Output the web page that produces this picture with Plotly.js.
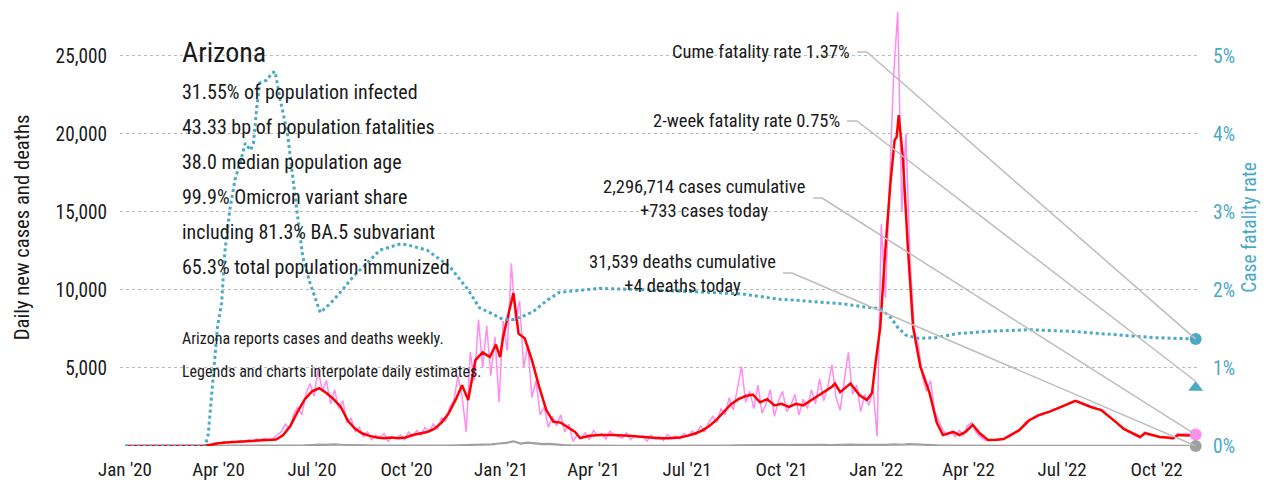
<!DOCTYPE html>
<html><head><meta charset="utf-8">
<script src="https://cdn.plot.ly/plotly-3.0.1.min.js"></script>
<style>html,body{margin:0;padding:0;background:#fff}#chart{width:1273px;height:485px}</style>
</head><body><div id="chart"></div>
<script>
// ---------------- DATA ----------------
const stateName = "Arizona";
const statLines = [
  "31.55% of population infected",
  "43.33 bp of population fatalities",
  "38.0 median population age",
  "99.9% Omicron variant share",
  "including 81.3% BA.5 subvariant",
  "65.3% total population immunized"
];
const noteLines = [
  "Arizona reports cases and deaths weekly.",
  "Legends and charts interpolate daily estimates."
];
const cumeLabel = "Cume fatality rate 1.37%";
const twoWeekLabel = "2-week fatality rate 0.75%";
const casesLabel = "2,296,714 cases cumulative<br>+733 cases today";
const deathsLabel = "31,539 deaths cumulative<br>+4 deaths today";
const leftTitle = "Daily new cases and deaths";
const rightTitle = "Case fatality rate";

const startDate = "2020-01-01";
const lastDay = 1042;              // 2022-11-08
const casesToday = 733;
const deathsToday = 4;
const cfrCume = 1.37;
const cfr2Week = 0.75;

const leftTicks = [5000, 10000, 15000, 20000, 25000];
const rightTicks = [0, 1, 2, 3, 4, 5];
const xTickDates = ["2020-01-01","2020-04-01","2020-07-01","2020-10-01","2021-01-01","2021-04-01","2021-07-01","2021-10-01","2022-01-01","2022-04-01","2022-07-01","2022-10-01"];
const xTickLabels = ["Jan '20","Apr '20","Jul '20","Oct '20","Jan '21","Apr '21","Jul '21","Oct '21","Jan '22","Apr '22","Jul '22","Oct '22"];

// raw daily cases, one reading every 4 days from startDate
const rawStep = 4;
const rawCases = [
0,0,0,0,0,0,0,0,0,0,0,0,0,0,0,0,0,0,0,
20,60,120,200,180,250,200,300,250,350,280,400,300,450,380,500,350,450,
700,900,1400,1100,2000,2500,2000,3300,4000,3200,4900,3500,4200,2700,3600,2400,2900,1500,1800,900,1200,600,900,400,700,500,800,300,600,500,700,400,900,600,1000,700,1200,900,1400,1100,1800,1600,
2500,2900,4500,3200,900,6000,4200,8100,5000,7700,4500,7000,2800,8000,6100,11700,8000,9300,5000,6500,3100,4200,2000,2500,1200,1900,1300,2000,
900,1400,300,700,500,850,400,1000,650,800,450,950,700,600,500,850,400,700,550,650,300,700,450,600,350,750,500,650,450,800,600,950,750,
1300,900,1500,1900,1500,2400,2000,3100,2300,3600,5100,2800,3500,2400,3900,2100,2700,3600,1900,2900,3500,2200,2600,3300,2000,3000,2400,3600,2700,4300,2900,3800,5200,3100,2300,4200,6000,3300,3900,2200,3300,2600,3700,
600,14200,9500,16600,23700,27800,15000,20000,12000,7500,6500,4500,3500,4200,2200,1600,1000,
700,900,600,1000,700,1300,1500,900,600,400,350,400,350,450,500,
700,800,950,1100,1500,1650,1800,2000,1950,2150,2200,2350,2400,2500,2650,2800,2900,2850,2700,2650,2500,2400,2350,2300,2000,1800,1550,1300,1100,950,800,
650,500,900,700,650,650,550,550,500,450,800,750,800,750,750
];

// 7-day average cases (day offset from startDate, value)
const avgDays = [0,70,77,84,91,98,105,112,119,126,133,140,147,154,161,168,175,182,189,196,203,210,217,224,231,238,245,252,259,266,273,280,287,294,301,308,315,322,328,334,341,348,355,361,365,368,378,383,389,396,403,410,417,424,431,438,443,452,462,475,490,500,510,520,530,540,547,555,562,569,576,583,590,597,604,611,618,625,632,639,646,653,660,667,674,681,688,691,696,706,715,722,727,730,735,740,745,749,751,753,757,762,767,774,783,790,796,806,812,818,825,832,840,848,855,862,870,880,890,900,910,918,925,932,940,950,958,965,972,980,988,993,1000,1007,1014,1020,1025,1034,1042];
const avgCases = [0,0,10,80,180,220,250,270,300,330,380,400,420,700,1300,2200,3000,3500,3700,3400,3000,2500,1600,1100,800,650,550,500,550,500,550,700,800,900,1100,1500,2100,3000,3900,2950,5500,6000,5700,6500,5700,7000,9800,7200,6900,5500,3800,2300,1550,1500,1200,900,500,650,700,700,650,600,550,500,500,550,650,800,1000,1300,1700,2200,2700,3000,3200,3300,2800,3000,2600,2700,2500,2700,2600,2900,3200,3500,3800,4000,3450,4000,3250,2950,3400,5100,7600,12600,16900,19600,19800,21200,18500,12600,7600,5100,3400,1500,700,900,700,900,1350,800,380,400,450,700,1000,1650,2000,2200,2450,2700,2900,2700,2500,2300,1900,1500,1100,830,580,830,700,580,550,500,700,680,720];

// daily deaths, one reading per week from startDate
const deathStep = 7;
const deaths = [
0,0,0,0,0,0,0,0,0,0,0,
2,5,10,15,20,25,20,30,25,20,25,20,25,35,40,
60,90,70,110,80,60,70,40,30,25,20,15,20,15,10,15,20,15,25,30,40,50,
70,90,120,110,160,200,300,150,220,170,120,130,80,60,40,30,20,15,15,10,12,10,
12,10,8,10,12,8,10,12,10,8,12,
15,20,25,30,40,50,60,50,70,55,65,50,60,55,45,60,70,55,80,60,90,70,60,50,80,70,100,80,120,90,70,50,40,30,25,15,
12,10,10,8,10,8,8,10,12,15,15,18,20,18,15,15,12,12,10,10,10,8,8,8,8,6,6,6,6,5,5,5
];

// case fatality rate, percent (day offset, value)
const cfrDays = [0,78,81,90,94,97,102,107,112,117,122,125,128,131,138,143,146,151,158,163,168,173,180,190,200,209,222,236,248,268,274,294,307,316,334,345,355,368,378,387,397,411,423,443,462,511,550,579,600,637,650,700,720,735,745,752,760,772,790,810,840,880,920,960,1000,1042];
const cfrPct = [0,0,0.15,1.53,1.83,2.47,3.03,3.41,3.63,3.88,3.79,3.88,4.31,4.65,4.69,4.78,4.80,4.44,4.01,3.45,2.94,2.42,2.09,1.71,1.83,1.96,2.17,2.35,2.51,2.59,2.58,2.51,2.38,2.30,2.0,1.77,1.71,1.62,1.62,1.66,1.72,1.87,1.97,2.0,2.02,2.0,1.98,1.96,1.95,1.88,1.87,1.82,1.78,1.76,1.65,1.52,1.42,1.38,1.39,1.44,1.47,1.49,1.47,1.43,1.39,1.37];

// ---------------- STYLE / LAYOUT ----------------
const FONT = "'Liberation Sans Narrow','Arial Narrow','Roboto Condensed','DejaVu Sans Condensed',sans-serif";
const TEAL = "#4aa9c6";
const PINK = "#ff8cf0";
const RED = "#ff0000";
const GRAY = "#a0a0a0";
const LINEC = "#bdbdbd";
const INK = "#1a1a1a";

const DAY = 86400000;
const ms0 = Date.UTC(2020,0,1);
const fmt = ms => new Date(ms).toISOString().replace('T',' ').replace('Z','');
const dayDate = d => fmt(ms0 + d*DAY);

const yMax = 28000;
const pctPerCase = 1/5000;
const W0 = 1273, H0 = 485;
const L = 120, R = 1197, T = 9, B = 446;
const xStartDay = -4.9, xEndDay = 1043.3;
const pxDate = px => fmt(ms0 + (xStartDay + (px-L)/(R-L)*(xEndDay-xStartDay))*DAY);
const pyCases = py => (B-py)/(B-T)*yMax;
const pyPct = py => pyCases(py)*pctPerCase;
const xp = px => (px-L)/(R-L);
const yp = py => (B-py)/(B-T);

const lastDate = dayDate(lastDay);

const traces = [
  {x: rawCases.map((v,i)=>dayDate(i*rawStep)), y: rawCases, type:'scatter', mode:'lines',
   line:{color:PINK, width:1.5}, hoverinfo:'skip'},
  {x: deaths.map((v,i)=>dayDate(i*deathStep)), y: deaths, type:'scatter', mode:'lines',
   line:{color:GRAY, width:2.2}, hoverinfo:'skip'},
  {x: avgDays.map(dayDate), y: avgCases, type:'scatter', mode:'lines',
   line:{color:RED, width:2.5}, hoverinfo:'skip'},
  {x: cfrDays.map(dayDate), y: cfrPct, yaxis:'y2', type:'scatter', mode:'lines',
   line:{color:TEAL, width:3, dash:'dot'}, hoverinfo:'skip'},
  {x:[lastDate], y:[casesToday], type:'scatter', mode:'markers', cliponaxis:false,
   marker:{color:PINK, size:12}},
  {x:[lastDate], y:[deathsToday], type:'scatter', mode:'markers', cliponaxis:false,
   marker:{color:GRAY, size:12}},
  {x:[lastDate], y:[cfrCume], yaxis:'y2', type:'scatter', mode:'markers', cliponaxis:false,
   marker:{color:TEAL, size:12}},
  {x:[lastDate], y:[cfr2Week], yaxis:'y2', type:'scatter', mode:'markers', cliponaxis:false,
   marker:{color:TEAL, size:13, symbol:'triangle-up'}}
];

const annotations = [];
const txt = (text, px, py, size, opts={}) => annotations.push(Object.assign({
  text, xref:'paper', yref:'paper', x:xp(px), y:yp(py), showarrow:false,
  xanchor:'left', yanchor:'middle', font:{family:FONT, size, color:INK}
}, opts));

txt(stateName, 180, 52, 28);
statLines.forEach((s,i)=>txt(s, 180, 92+35*i, 20));
noteLines.forEach((s,i)=>txt(s, 180, 338+33*i, 16));
txt(cumeLabel, 852, 52, 18.5, {xanchor:'right'});
txt(twoWeekLabel, 842, 121, 18.5, {xanchor:'right'});
txt(casesLabel, 807, 199, 18.5, {xanchor:'right', align:'center'});
txt(deathsLabel, 778, 274, 18.5, {xanchor:'right', align:'center'});

const shapes = [];
function connector(px0, py0, px1, yref, yEnd){
  const conv = yref === 'y2' ? pyPct : pyCases;
  const st = {type:'line', xref:'x', yref, line:{color:LINEC, width:1.5}, layer:'above'};
  shapes.push(Object.assign({}, st, {x0:pxDate(px0), x1:pxDate(px1), y0:conv(py0), y1:conv(py0)}));
  shapes.push(Object.assign({}, st, {x0:pxDate(px1), x1:lastDate, y0:conv(py0), y1:yEnd}));
}
connector(857, 52, 867, 'y2', cfrCume);
connector(847, 121, 857, 'y2', cfr2Week + 0.08);
connector(813, 198, 822, 'y', casesToday);
connector(783, 273, 792, 'y', deathsToday);

const layout = {
  width: W0, height: H0,
  margin: {l:L, r:W0-R, t:T, b:H0-B, pad:0},
  paper_bgcolor:'#fff', plot_bgcolor:'#fff',
  showlegend:false,
  font:{family:FONT, color:INK, size:19},
  xaxis:{type:'date', range:[dayDate(xStartDay), dayDate(xEndDay)], tickmode:'array',
    tickvals:xTickDates, ticktext:xTickLabels, showgrid:false, zeroline:false, showline:false,
    ticks:'', tickfont:{family:FONT, size:19, color:INK}, ticklabelstandoff:10},
  yaxis:{range:[0,yMax], tickmode:'array', tickvals:leftTicks,
    ticktext:leftTicks.map(v=>v.toLocaleString('en-US')), showgrid:true, gridcolor:'#bbbbbb',
    griddash:'dot', gridwidth:1, zeroline:false, showline:false, ticks:'',
    tickfont:{family:FONT, size:19.3, color:INK}, ticklabelstandoff:12,
    title:{text:leftTitle, font:{family:FONT, size:20.7, color:INK}, standoff:20}},
  yaxis2:{range:[0,yMax*pctPerCase], overlaying:'y', side:'right', tickmode:'array',
    tickvals:rightTicks, ticktext:rightTicks.map(v=>v+'%'), showgrid:false, zeroline:false,
    showline:false, ticks:'', tickfont:{family:FONT, size:19.5, color:TEAL}, ticklabelstandoff:15,
    title:{text:rightTitle, font:{family:FONT, size:19.5, color:TEAL}, standoff:8}},
  annotations, shapes
};

Plotly.newPlot('chart', traces, layout, {staticPlot:true, displayModeBar:false});
</script>
</body></html>
